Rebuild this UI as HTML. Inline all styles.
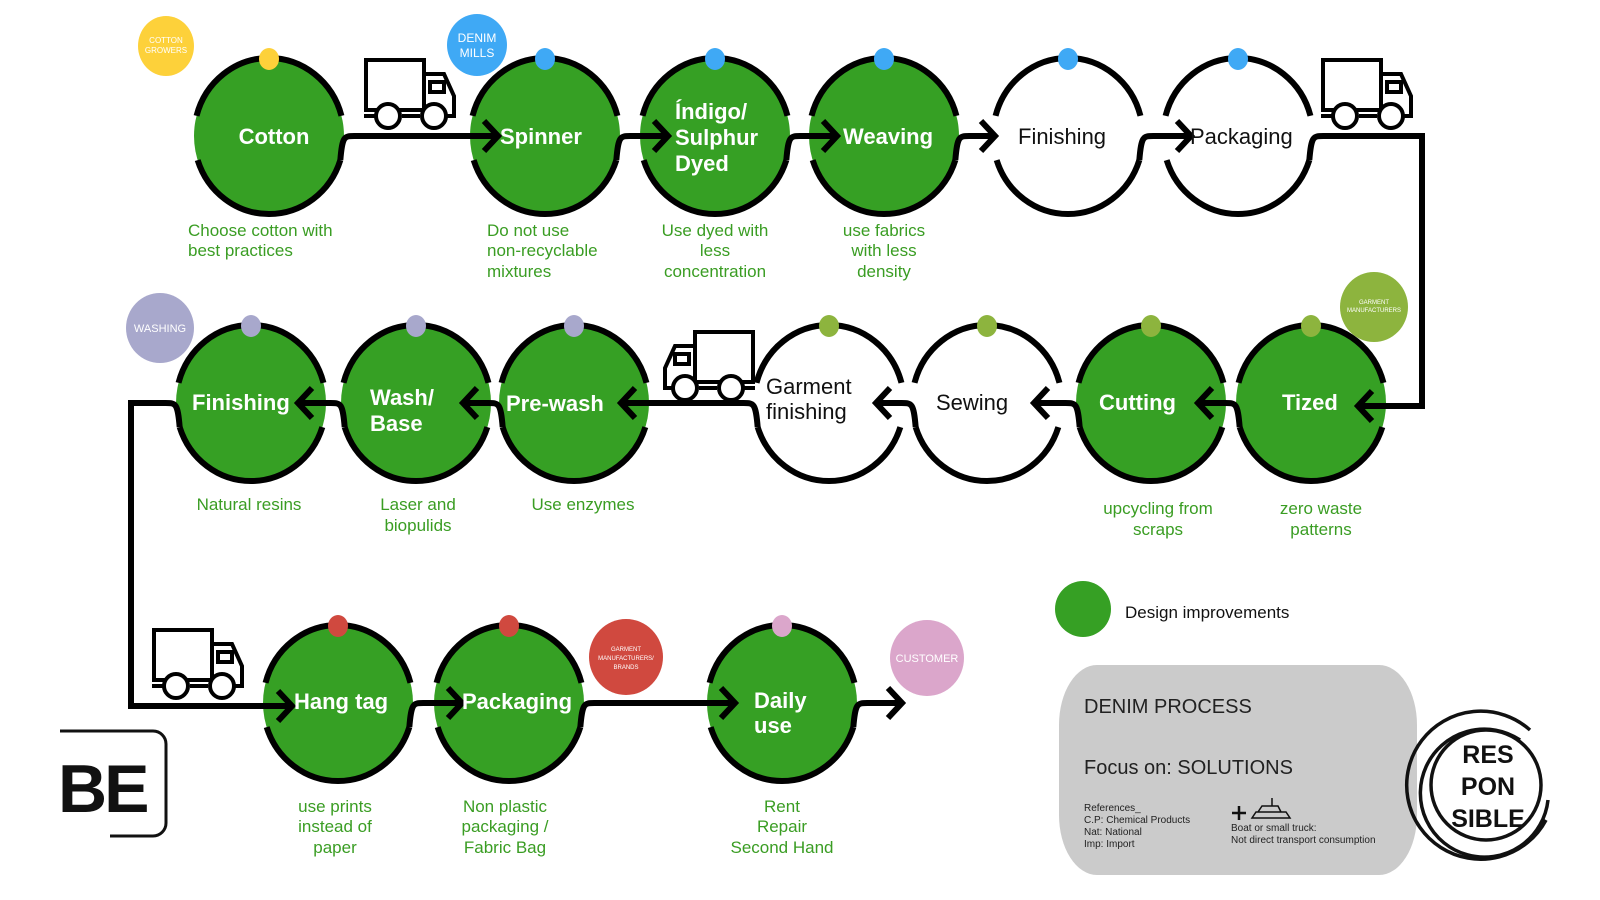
<!DOCTYPE html>
<html><head><meta charset="utf-8"><style>
html,body{margin:0;padding:0;background:#fff;width:1600px;height:900px;overflow:hidden}
svg{display:block}
text{font-family:"Liberation Sans",sans-serif}
.w{fill:#fff;font-weight:bold;font-size:22px}
.k{fill:#111;font-size:22px}
.d{fill:#3a9d23;font-size:17px}
.s{fill:#fff}
</style></head><body>
<svg id="s" width="1600" height="900" viewBox="0 0 1600 900" xmlns="http://www.w3.org/2000/svg">
<g id="g"></g>
<ellipse cx="166" cy="46" rx="28" ry="30" fill="#fdd13a"/>
<text x="166" y="43" class="s" text-anchor="middle" style="font-size:8px">COTTON</text>
<text x="166" y="53" class="s" text-anchor="middle" style="font-size:8px">GROWERS</text>
<ellipse cx="477" cy="45" rx="30" ry="31" fill="#3fa9f5"/>
<text x="477" y="42" class="s" text-anchor="middle" style="font-size:12px">DENIM</text>
<text x="477" y="57" class="s" text-anchor="middle" style="font-size:12px">MILLS</text>
<ellipse cx="160" cy="328" rx="34" ry="35" fill="#a8a8cc"/>
<text x="160" y="332" class="s" text-anchor="middle" style="font-size:11px">WASHING</text>
<ellipse cx="1374" cy="307" rx="34" ry="35" fill="#8db43e"/>
<text x="1374" y="304" class="s" text-anchor="middle" style="font-size:6px">GARMENT</text>
<text x="1374" y="312" class="s" text-anchor="middle" style="font-size:6px">MANUFACTURERS</text>
<ellipse cx="626" cy="657" rx="37" ry="38" fill="#d0493f"/>
<text x="626" y="651" class="s" text-anchor="middle" style="font-size:6px">GARMENT</text>
<text x="626" y="660" class="s" text-anchor="middle" style="font-size:6px">MANUFACTURERS/</text>
<text x="626" y="669" class="s" text-anchor="middle" style="font-size:6px">BRANDS</text>
<ellipse cx="927" cy="658" rx="37" ry="38" fill="#dba6cb"/>
<text x="927" y="662" class="s" text-anchor="middle" style="font-size:11px">CUSTOMER</text>

<text x="274" y="144" class="w" text-anchor="middle">Cotton</text>
<text x="500" y="144" class="w">Spinner</text>
<text x="675" y="119" class="w">Índigo/</text>
<text x="675" y="145" class="w">Sulphur</text>
<text x="675" y="171" class="w">Dyed</text>
<text x="843" y="144" class="w">Weaving</text>
<text x="1018" y="144" class="k">Finishing</text>
<text x="1190" y="144" class="k">Packaging</text>

<text x="192" y="410" class="w">Finishing</text>
<text x="370" y="405" class="w">Wash/</text>
<text x="370" y="431" class="w">Base</text>
<text x="506" y="411" class="w">Pre-wash</text>
<text x="766" y="394" class="k">Garment</text>
<text x="766" y="419" class="k">finishing</text>
<text x="936" y="410" class="k">Sewing</text>
<text x="1099" y="410" class="w">Cutting</text>
<text x="1282" y="410" class="w">Tized</text>

<text x="294" y="709" class="w">Hang tag</text>
<text x="462" y="709" class="w">Packaging</text>
<text x="754" y="708" class="w">Daily</text>
<text x="754" y="733" class="w">use</text>

<g class="d">
<text x="188" y="236" class="d">Choose cotton with</text>
<text x="188" y="256" class="d">best practices</text>
<text x="487" y="236" class="d">Do not use</text>
<text x="487" y="256" class="d">non-recyclable</text>
<text x="487" y="277" class="d">mixtures</text>
<g text-anchor="middle">
<text x="715" y="236" class="d">Use dyed with</text>
<text x="715" y="256" class="d">less</text>
<text x="715" y="277" class="d">concentration</text>
<text x="884" y="236" class="d">use fabrics</text>
<text x="884" y="256" class="d">with less</text>
<text x="884" y="277" class="d">density</text>
<text x="249" y="510" class="d">Natural resins</text>
<text x="418" y="510" class="d">Laser and</text>
<text x="418" y="531" class="d">biopulids</text>
<text x="583" y="510" class="d">Use enzymes</text>
<text x="1158" y="514" class="d">upcycling from</text>
<text x="1158" y="535" class="d">scraps</text>
<text x="1321" y="514" class="d">zero waste</text>
<text x="1321" y="535" class="d">patterns</text>
<text x="335" y="812" class="d">use prints</text>
<text x="335" y="832" class="d">instead of</text>
<text x="335" y="853" class="d">paper</text>
<text x="505" y="812" class="d">Non plastic</text>
<text x="505" y="832" class="d">packaging /</text>
<text x="505" y="853" class="d">Fabric Bag</text>
<text x="782" y="812" class="d">Rent</text>
<text x="782" y="832" class="d">Repair</text>
<text x="782" y="853" class="d">Second Hand</text>
</g></g>

<ellipse cx="1083" cy="609" rx="28" ry="28" fill="#36a024"/>
<text x="1125" y="618" fill="#111" font-size="17">Design improvements</text>
<rect x="1059" y="665" width="358" height="210" rx="38" ry="60" fill="#cbcbcb"/>
<text x="1084" y="713" fill="#222" font-size="20">DENIM PROCESS</text>
<text x="1084" y="774" fill="#222" font-size="20">Focus on: SOLUTIONS</text>
<g fill="#222" font-size="10">
<text x="1084" y="811">References_</text>
<text x="1084" y="823">C.P: Chemical Products</text>
<text x="1084" y="835">Nat: National</text>
<text x="1084" y="847">Imp: Import</text>
<text x="1231" y="831">Boat or small truck:</text>
<text x="1231" y="843">Not direct transport consumption</text>
</g>
<path d="M1232 813 h14 M1239 806 v14" stroke="#111" stroke-width="2.5"/>
<path d="M1252 818 h38 l-4 -6 h-30 z M1258 812 l4 -6 h16 l3 6 M1272 806 v-8" stroke="#111" stroke-width="1.5" fill="none"/>

<g fill="none" stroke="#111" stroke-width="3.5">
<path d="M1546 820 A74 74 0 1 1 1530 730"/>
<path d="M1520 740 A64 64 0 1 0 1548 800"/>
<circle cx="1486" cy="785" r="55"/>
</g>
<g font-weight="bold" font-size="25" fill="#111" text-anchor="middle">
<text x="1488" y="763">RES</text>
<text x="1488" y="795">PON</text>
<text x="1488" y="827">SIBLE</text>
</g>

<path d="M60 731 H153 a13 13 0 0 1 13 13 V823 a13 13 0 0 1 -13 13 H110" fill="none" stroke="#111" stroke-width="3"/>
<text x="58" y="812" font-size="68" font-weight="bold" fill="#111" letter-spacing="-3">BE</text>
</svg>
<script>
const NS="http://www.w3.org/2000/svg",g=document.getElementById('g');
function el(t,a){const e=document.createElementNS(NS,t);for(const k in a)e.setAttribute(k,a[k]);g.appendChild(e);return e;}
const RX=75,RY=78;
const C=[
[269,136,1,'#fdd13a'],[545,136,1,'#3fa9f5'],[715,136,1,'#3fa9f5'],[884,136,1,'#3fa9f5'],[1068,136,0,'#3fa9f5'],[1238,136,0,'#3fa9f5'],
[251,403,1,'#a8a8cc'],[416,403,1,'#a8a8cc'],[574,403,1,'#a8a8cc'],[829,403,0,'#8db43e'],[987,403,0,'#8db43e'],[1151,403,1,'#8db43e'],[1311,403,1,'#8db43e'],
[338,703,1,'#d0493f'],[509,703,1,'#d0493f'],[782,703,1,'#dba6cb']];
const pt=(c,a)=>[c[0]+RX*Math.cos(a*Math.PI/180),c[1]+RY*Math.sin(a*Math.PI/180)];
C.forEach(c=>{
 if(c[2])el('ellipse',{cx:c[0],cy:c[1],rx:RX,ry:RY,fill:'#36a024'});
 let a=pt(c,195),b=pt(c,345);
 el('path',{d:`M${a[0]} ${a[1]} A${RX} ${RY} 0 0 1 ${b[0]} ${b[1]}`,fill:'none',stroke:'#000','stroke-width':6});
 a=pt(c,18);b=pt(c,162);
 el('path',{d:`M${a[0]} ${a[1]} A${RX} ${RY} 0 0 1 ${b[0]} ${b[1]}`,fill:'none',stroke:'#000','stroke-width':6});
 el('ellipse',{cx:c[0],cy:c[1]-RY+1,rx:10,ry:11,fill:c[3]});
});
const S={fill:'none',stroke:'#000','stroke-width':6,'stroke-linejoin':'miter'};
function arr(x,y,dir){el('path',Object.assign({d:`M${x-dir*14} ${y-15} L${x} ${y} L${x-dir*14} ${y+15}`},S));}
function right(a,b,ins){const A=C[a],B=C[b];const p=pt(A,18),y=A[1],tip=B[0]-RX+(ins==null?28:ins);
 el('path',Object.assign({d:`M${p[0]} ${p[1]} C${p[0]+2} ${y} ${p[0]+4} ${y} ${p[0]+14} ${y} L${tip} ${y}`},S));arr(tip,y,1);}
function left(a,b){const A=C[a],B=C[b];const p=pt(A,162),y=A[1],tip=B[0]+RX-28;
 el('path',Object.assign({d:`M${p[0]} ${p[1]} C${p[0]-2} ${y} ${p[0]-4} ${y} ${p[0]-14} ${y} L${tip} ${y}`},S));arr(tip,y,-1);}
right(0,1);right(1,2);right(2,3);right(3,4,2);right(4,5);
let p=pt(C[5],18);el('path',Object.assign({d:`M${p[0]} ${p[1]} C${p[0]+2} 136 ${p[0]+4} 136 ${p[0]+14} 136 L1422 136 L1422 406 L1358 406`},S));arr(1358,406,-1);
left(12,11);left(11,10);left(10,9);left(9,8);left(8,7);left(7,6);
p=pt(C[6],162);el('path',Object.assign({d:`M${p[0]} ${p[1]} C${p[0]-2} 403 ${p[0]-4} 403 ${p[0]-14} 403 L131 403 L131 706 L292 706`},S));arr(292,706,1);
right(13,14);right(14,15);
p=pt(C[15],18);el('path',Object.assign({d:`M${p[0]} ${p[1]} C${p[0]+2} 703 ${p[0]+4} 703 ${p[0]+14} 703 L902 703`},S));arr(902,703,1);
function truck(x,y,flip){const t=document.createElementNS(NS,'g');t.setAttribute('transform',flip?`translate(${x+94} ${y}) scale(-1 1)`:`translate(${x} ${y})`);
 t.innerHTML=`<g fill="none" stroke="#000" stroke-width="4"><rect x="2" y="2" width="58" height="50"/><path d="M60 16 h20 l10 22 v20 h-30"/><rect x="66" y="24" width="14" height="10"/><path d="M0 58 h14 M38 58 h18"/><circle cx="24" cy="58" r="12" fill="#fff"/><circle cx="70" cy="58" r="12" fill="#fff"/></g>`;
 g.appendChild(t);}
truck(364,58,0);truck(1321,58,0);truck(661,330,1);truck(152,628,0);
</script>
</body></html>
